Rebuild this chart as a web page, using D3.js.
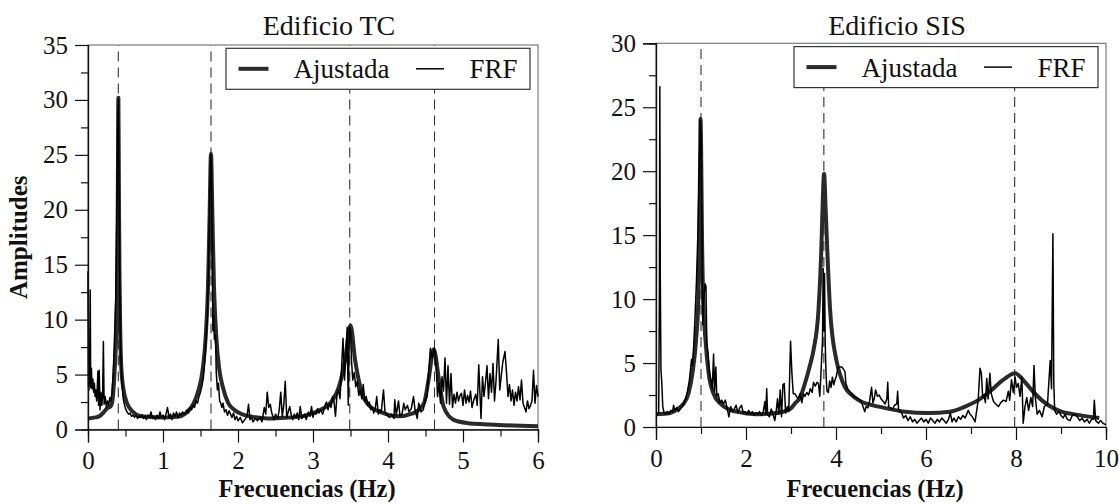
<!DOCTYPE html>
<html>
<head>
<meta charset="utf-8">
<script src="https://cdn.jsdelivr.net/npm/d3@7"></script>
<style>
  body { margin: 0; background: #fff; }
  svg text { font-family: "Liberation Serif", "Times New Roman", serif; fill: #111; }
</style>
</head>
<body>
<svg id="chart" width="1120" height="504"></svg>
<script>
// Edificio TC : FRF medida [frecuencia Hz, amplitud]
var tcFRF = [
  [0.000,14.4],[0.006,4.0],[0.012,3.6],[0.02,5.0],[0.03,12.7],[0.036,3.8],[0.045,5.6],[0.055,3.7],[0.065,4.6],[0.075,3.4],
  [0.085,4.2],[0.095,3.0],[0.105,3.6],[0.115,2.6],[0.125,4.0],[0.132,5.3],[0.14,2.2],[0.15,5.4],[0.16,1.8],[0.172,3.4],
  [0.185,2.2],[0.195,3.0],[0.205,8.0],[0.215,2.3],[0.23,3.0],[0.245,2.0],[0.26,2.6],[0.275,2.2],[0.29,2.9],[0.305,2.6],
  [0.32,3.4],[0.335,5.0],[0.35,7.6],[0.37,12],[0.385,20],[0.397,28],[0.405,30],[0.413,24],[0.42,16],[0.43,9.5],
  [0.44,6.2],[0.455,4.0],[0.47,2.8],[0.485,2.3],[0.5,1.9],[0.52,1.6],[0.54,1.4],[0.56,1.5],[0.58,1.2],[0.6,1.3],
  [0.62,1.1],[0.64,1.3],[0.66,1.0],[0.68,1.2],[0.7,1.1],[0.72,1.3],[0.74,1.0],[0.76,1.2],[0.78,0.9],[0.8,1.3],
  [0.82,1.1],[0.84,1.6],[0.86,1.0],[0.88,1.2],[0.9,0.9],[0.92,1.3],[0.94,1.0],[0.96,1.6],[0.98,1.1],[1.0,1.3],
  [1.02,0.9],[1.04,1.4],[1.06,2.0],[1.08,1.1],[1.1,1.4],[1.12,0.9],[1.14,1.5],[1.16,1.2],[1.18,1.6],[1.2,1.1],
  [1.22,1.5],[1.24,1.3],[1.26,1.6],[1.28,1.4],[1.3,1.5],[1.32,1.8],[1.34,1.5],[1.36,2.0],[1.38,1.8],[1.4,2.2],
  [1.42,2.0],[1.44,2.6],[1.46,2.4],[1.48,3.0],[1.5,3.4],[1.52,4.0],[1.54,4.8],[1.56,6.5],[1.575,8.6],[1.59,10],
  [1.605,14],[1.62,20],[1.635,25],[1.645,24],[1.655,17],[1.665,9],[1.675,10.4],[1.685,8.2],[1.7,8.6],[1.71,5.2],
  [1.725,3.6],[1.74,4.2],[1.755,2.6],[1.77,2.4],[1.785,2.0],[1.8,2.4],[1.82,1.6],[1.84,1.8],[1.86,1.3],[1.88,1.7],
  [1.9,1.4],[1.92,1.1],[1.94,1.5],[1.96,0.9],[1.98,1.2],[2.0,0.8],[2.03,1.1],[2.06,0.6],[2.09,0.9],[2.12,1.2],
  [2.14,2.3],[2.16,0.9],[2.18,1.1],[2.2,0.7],[2.23,1.0],[2.26,0.8],[2.29,1.1],[2.32,0.7],[2.35,2.0],[2.37,1.4],
  [2.39,3.4],[2.41,2.0],[2.43,2.3],[2.45,1.5],[2.48,0.9],[2.5,1.4],[2.53,1.0],[2.55,1.8],[2.57,3.4],[2.59,1.2],
  [2.61,2.2],[2.63,4.4],[2.65,1.1],[2.67,1.6],[2.69,2.1],[2.71,1.3],[2.73,0.9],[2.75,1.4],[2.77,1.1],[2.79,1.5],
  [2.81,0.9],[2.83,2.1],[2.85,1.0],[2.87,1.2],[2.89,1.4],[2.91,0.9],[2.94,1.6],[2.96,1.2],[2.98,2.1],[3.0,1.1],
  [3.02,1.6],[3.04,1.4],[3.06,1.9],[3.08,1.5],[3.1,1.8],[3.13,1.4],[3.16,2.2],[3.18,2.5],[3.2,1.8],[3.22,2.4],
  [3.24,2.0],[3.26,3.0],[3.28,2.5],[3.3,1.2],[3.32,3.2],[3.34,3.6],[3.36,2.8],[3.38,5.5],[3.4,8.3],[3.42,4.5],
  [3.44,7.0],[3.455,9.3],[3.47,2.2],[3.485,9.4],[3.5,9.0],[3.515,6.1],[3.53,4.5],[3.55,5.2],[3.57,3.9],[3.59,4.4],
  [3.61,3.1],[3.63,3.6],[3.65,2.8],[3.67,4.1],[3.69,2.6],[3.71,3.0],[3.73,2.2],[3.75,2.5],[3.77,1.8],[3.79,2.0],
  [3.81,1.5],[3.83,1.9],[3.85,3.0],[3.87,1.4],[3.89,1.8],[3.91,1.6],[3.94,3.6],[3.96,1.6],[3.99,1.3],[4.02,1.1],
  [4.05,1.4],[4.08,1.0],[4.09,2.7],[4.11,1.3],[4.14,2.6],[4.16,1.2],[4.19,1.5],[4.21,2.4],[4.23,1.8],[4.26,2.2],
  [4.28,1.6],[4.31,1.9],[4.34,3.0],[4.36,1.8],[4.39,1.0],[4.41,2.4],[4.44,1.6],[4.47,1.8],[4.5,2.8],[4.52,3.0],
  [4.54,5.0],[4.565,7.4],[4.59,6.5],[4.615,7.4],[4.63,6.8],[4.645,5.5],[4.66,3.0],[4.68,4.2],[4.7,2.4],[4.72,4.8],
  [4.74,3.5],[4.76,6.5],[4.78,2.4],[4.8,5.8],[4.82,2.3],[4.84,5.1],[4.86,2.0],[4.88,3.2],[4.9,2.4],[4.92,3.4],
  [4.94,2.6],[4.96,3.1],[4.98,3.3],[5.0,2.2],[5.02,3.6],[5.04,2.4],[5.06,3.1],[5.08,2.5],[5.1,3.5],[5.12,2.0],
  [5.14,2.6],[5.17,3.2],[5.19,2.2],[5.21,5.9],[5.24,1.0],[5.26,4.8],[5.28,3.0],[5.3,4.3],[5.32,5.8],[5.34,2.8],
  [5.36,5.1],[5.38,3.4],[5.4,6.0],[5.42,2.6],[5.44,4.4],[5.47,8.2],[5.49,3.6],[5.51,4.9],[5.53,6.1],[5.56,7.1],
  [5.58,5.2],[5.6,3.0],[5.62,4.1],[5.64,2.6],[5.66,3.6],[5.68,2.2],[5.7,3.4],[5.72,2.6],[5.74,3.9],[5.76,2.7],
  [5.78,4.5],[5.8,2.4],[5.82,2.0],[5.84,1.6],[5.86,2.6],[5.88,1.9],[5.9,2.2],[5.92,2.6],[5.94,5.4],[5.96,2.4],
  [5.98,4.0],[6.0,3.0]
];

// Edificio TC : curva ajustada
var tcFit = [
  [0,1.0],[0.1,1.1],[0.15,1.2],[0.2,1.5],[0.25,1.9],[0.3,2.1],[0.32,2.4],[0.356,5.5],[0.375,8.5],[0.39,14],
  [0.398,22],[0.405,30.2],[0.412,22],[0.42,14],[0.43,9],[0.445,5.5],[0.47,3.8],[0.52,2.4],[0.6,1.6],[0.68,1.25],
  [0.8,1.15],[1.0,1.1],[1.2,1.15],[1.3,1.45],[1.41,2.4],[1.47,3.5],[1.53,5.5],[1.57,8.5],[1.6,13],[1.62,19],
  [1.64,25.1],[1.66,19],[1.68,13],[1.71,8.5],[1.75,5.5],[1.8,3.8],[1.87,2.4],[1.95,1.8],[2.05,1.4],[2.2,1.15],
  [2.4,1.0],[2.56,1.05],[2.8,1.15],[3.0,1.5],[3.1,1.8],[3.23,2.4],[3.36,4.2],[3.43,6.4],[3.5,9.5],[3.56,6.4],
  [3.63,3.9],[3.76,2.1],[3.94,1.5],[4.12,1.2],[4.34,1.5],[4.48,2.4],[4.54,4.5],[4.61,7.3],[4.68,4.5],[4.74,2.1],
  [4.87,0.9],[5.05,0.6],[5.36,0.45],[5.67,0.36],[6.0,0.3]
];
var tcModes = [0.404, 1.64, 3.49, 4.62];

// Edificio SIS : FRF medida
var sisFRF = [
  [0,1.0],[0.03,1.0],[0.06,1.1],[0.075,10],[0.085,26.6],[0.095,12],[0.11,4.5],[0.13,3.4],[0.15,1.6],[0.18,1.1],
  [0.21,1.0],[0.25,1.2],[0.29,1.0],[0.33,1.3],[0.37,1.2],[0.39,1.7],[0.42,1.3],[0.46,1.5],[0.5,1.2],[0.54,1.4],
  [0.58,1.6],[0.62,1.9],[0.66,2.2],[0.7,2.8],[0.74,3.6],[0.77,4.6],[0.79,5.3],[0.81,4.8],[0.84,6.5],[0.87,8.8],
  [0.9,11.5],[0.93,15],[0.96,20],[0.985,24],[1.0,23],[1.02,15],[1.04,8],[1.06,10],[1.09,11.2],[1.11,11.0],
  [1.13,6.5],[1.16,5.6],[1.19,4.2],[1.22,3.6],[1.25,3.0],[1.28,5.7],[1.3,2.8],[1.33,4.7],[1.35,2.4],[1.38,2.6],
  [1.42,1.9],[1.46,2.1],[1.5,1.8],[1.54,2.1],[1.58,1.5],[1.62,0.8],[1.66,1.6],[1.7,1.2],[1.74,1.4],[1.78,1.7],
  [1.82,1.1],[1.86,1.5],[1.9,1.7],[1.94,1.1],[1.98,1.2],[2.02,1.0],[2.06,1.3],[2.1,1.0],[2.14,1.2],[2.18,0.9],
  [2.22,1.1],[2.26,1.0],[2.3,1.2],[2.34,0.9],[2.38,1.1],[2.42,2.0],[2.44,1.0],[2.46,3.0],[2.48,1.0],[2.52,0.8],
  [2.56,1.4],[2.6,1.0],[2.64,0.5],[2.67,1.2],[2.7,2.2],[2.73,1.0],[2.76,2.9],[2.79,0.8],[2.82,3.3],[2.85,3.4],
  [2.88,1.1],[2.92,1.6],[2.95,1.2],[2.99,6.7],[3.02,4.2],[3.05,2.6],[3.09,2.6],[3.12,2.4],[3.16,2.2],[3.2,2.6],
  [3.24,1.9],[3.28,2.6],[3.31,2.4],[3.35,2.7],[3.39,2.5],[3.43,3.0],[3.47,2.7],[3.5,3.5],[3.54,3.2],[3.58,3.5],
  [3.61,3.4],[3.64,2.4],[3.67,4.5],[3.7,6.8],[3.715,12.4],[3.73,7.5],[3.745,12.0],[3.76,6.6],[3.78,4.0],[3.8,2.8],
  [3.83,2.7],[3.86,3.6],[3.89,3.1],[3.92,3.9],[3.95,3.3],[3.98,3.7],[4.01,4.0],[4.04,4.6],[4.08,4.7],[4.13,4.7],
  [4.17,4.5],[4.2,4.3],[4.22,3.4],[4.26,3.0],[4.3,2.8],[4.35,2.6],[4.4,2.4],[4.45,2.3],[4.5,2.2],[4.54,2.1],
  [4.57,1.9],[4.6,1.6],[4.64,1.2],[4.67,1.6],[4.71,1.5],[4.75,2.1],[4.79,3.1],[4.82,1.9],[4.85,2.2],[4.88,2.9],
  [4.92,2.4],[4.96,2.5],[5.0,2.2],[5.05,2.0],[5.09,1.8],[5.13,2.2],[5.15,3.5],[5.17,1.6],[5.21,1.5],[5.26,1.4],
  [5.3,1.7],[5.35,1.8],[5.37,2.8],[5.39,1.4],[5.41,1.2],[5.46,1.1],[5.5,0.7],[5.55,0.9],[5.6,0.5],[5.65,0.8],
  [5.7,0.4],[5.75,0.6],[5.8,0.3],[5.85,0.5],[5.9,0.7],[5.95,0.4],[6.0,0.6],[6.05,0.3],[6.1,0.7],[6.15,0.5],
  [6.2,0.3],[6.25,0.6],[6.3,0.4],[6.35,0.7],[6.4,0.5],[6.45,0.3],[6.5,0.6],[6.54,1.1],[6.58,0.4],[6.62,0.7],
  [6.67,0.4],[6.72,0.8],[6.77,0.6],[6.82,0.9],[6.87,0.7],[6.94,1.3],[6.98,1.0],[7.03,0.8],[7.09,0.4],[7.16,2.1],
  [7.2,4.6],[7.23,4.2],[7.26,2.3],[7.29,2.5],[7.32,1.9],[7.35,3.8],[7.38,2.2],[7.42,4.2],[7.45,2.6],[7.5,2.0],
  [7.55,1.8],[7.61,1.6],[7.66,1.9],[7.72,2.1],[7.78,2.0],[7.83,2.8],[7.86,2.1],[7.9,3.7],[7.94,2.7],[7.98,3.9],
  [8.01,3.1],[8.05,3.4],[8.09,2.4],[8.13,3.9],[8.16,0.3],[8.2,1.6],[8.24,2.3],[8.28,1.3],[8.33,2.3],[8.37,1.6],
  [8.4,4.8],[8.43,2.3],[8.47,1.0],[8.52,1.3],[8.58,0.8],[8.63,1.6],[8.7,1.8],[8.76,5.2],[8.79,3.0],[8.82,15.1],
  [8.84,3.4],[8.86,1.3],[8.9,1.0],[8.95,1.2],[9.0,0.9],[9.05,0.7],[9.09,1.0],[9.14,0.6],[9.2,0.5],[9.25,0.9],
  [9.31,1.0],[9.36,0.8],[9.42,0.5],[9.47,0.7],[9.52,0.4],[9.58,0.6],[9.63,0.3],[9.68,0.6],[9.72,0.6],[9.74,2.1],
  [9.77,0.5],[9.83,0.3],[9.88,0.5],[9.93,0.3],[9.98,0.2],[10.0,0.2]
];

// Edificio SIS : curva ajustada
var sisFit = [
  [0,1.0],[0.31,1.1],[0.5,1.45],[0.61,1.8],[0.72,2.6],[0.81,4.2],[0.89,6.8],[0.94,9.9],[0.965,15.5],[0.98,21],
  [0.99,24.1],[1.005,21],[1.02,15.5],[1.05,9.9],[1.1,6.8],[1.17,4.2],[1.28,2.6],[1.44,1.8],[1.6,1.4],[1.79,1.2],
  [2.24,1.0],[2.68,1.1],[2.98,1.4],[3.09,1.85],[3.2,2.3],[3.31,3.4],[3.42,4.8],[3.5,6.0],[3.61,9.1],[3.67,13.5],
  [3.7,17],[3.735,19.8],[3.77,17],[3.81,13.5],[3.87,9.1],[4.01,5.2],[4.1,4.0],[4.2,3.1],[4.35,2.5],[4.5,2.1],
  [4.7,1.8],[4.94,1.6],[5.2,1.4],[5.53,1.2],[6.05,1.1],[6.53,1.2],[6.87,1.6],[7.16,2.1],[7.46,2.9],[7.72,3.7],
  [7.98,4.2],[8.2,3.5],[8.42,2.6],[8.72,1.7],[9.01,1.2],[9.38,0.95],[9.85,0.7]
];
var sisModes = [1.0, 3.73, 7.97];

// ticks
var tcXMajor = [0, 1, 2, 3, 4, 5, 6];
var tcXMinor = [0.5, 1.5, 2.5, 3.5, 4.5, 5.5];
var tcYMajor = [0, 5, 10, 15, 20, 25, 30, 35];
var tcYMinor = [2.5, 7.5, 12.5, 17.5, 22.5, 27.5, 32.5];
var sisXMajor = [0, 2, 4, 6, 8, 10];
var sisXMinor = [1, 3, 5, 7, 9];
var sisYMajor = [0, 5, 10, 15, 20, 25, 30];
var sisYMinor = [2.5, 7.5, 12.5, 17.5, 22.5, 27.5];

var FONT = '"Liberation Serif", "Times New Roman", serif';
var svg = d3.select("#chart");

function styleAxis(sel) {
  sel.select(".domain").attr("stroke", "#111").attr("stroke-width", 1.2);
  sel.selectAll(".tick line").attr("stroke", "#111").attr("stroke-width", 1.2);
  sel.selectAll(".tick text")
    .style("font-family", FONT)
    .style("font-size", "25px")
    .attr("fill", "#111");
}

function drawPanel(p) {
  var x = d3.scaleLinear().domain([0, p.xMax]).range([p.x0, p.x1]);
  var y = d3.scaleLinear().domain([0, p.yMax]).range([p.y0, p.y1]);
  var g = svg.append("g");
  var cx = (p.x0 + p.x1) / 2;

  // marco
  g.append("rect")
    .attr("x", p.x0).attr("y", p.y1)
    .attr("width", p.x1 - p.x0).attr("height", p.y0 - p.y1)
    .attr("fill", "none").attr("stroke", "#7a7a7a").attr("stroke-width", 1.2);

  // frecuencias identificadas
  g.selectAll("line.mode").data(p.modes).enter().append("line")
    .attr("class", "mode")
    .attr("x1", function (d) { return x(d); })
    .attr("x2", function (d) { return x(d); })
    .attr("y1", y(0)).attr("y2", y(p.yMax))
    .attr("stroke", "#333").attr("stroke-width", 1.1)
    .attr("stroke-dasharray", "10,6");

  var line = d3.line()
    .x(function (d) { return x(d[0]); })
    .y(function (d) { return y(d[1]); });

  g.append("path").datum(p.fit)
    .attr("d", line.curve(d3.curveMonotoneX))
    .attr("fill", "none").attr("stroke", "#2a2a2a").attr("stroke-width", 4)
    .attr("stroke-linejoin", "round");

  g.append("path").datum(p.frf)
    .attr("d", line.curve(d3.curveLinear))
    .attr("fill", "none").attr("stroke", "#000").attr("stroke-width", 1.5)
    .attr("stroke-linejoin", "round");

  // ejes
  var ax = g.append("g").attr("transform", "translate(0," + p.y0 + ")")
    .call(d3.axisBottom(x).tickValues(p.xMajor).tickSize(13).tickPadding(9).tickFormat(d3.format("d")));
  styleAxis(ax);
  var axm = g.append("g").attr("transform", "translate(0," + p.y0 + ")")
    .call(d3.axisBottom(x).tickValues(p.xMinor).tickSize(7).tickFormat(""));
  styleAxis(axm);
  var ay = g.append("g").attr("transform", "translate(" + p.x0 + ",0)")
    .call(d3.axisLeft(y).tickValues(p.yMajor).tickSize(13).tickPadding(7).tickFormat(d3.format("d")));
  styleAxis(ay);
  var aym = g.append("g").attr("transform", "translate(" + p.x0 + ",0)")
    .call(d3.axisLeft(y).tickValues(p.yMinor).tickSize(7).tickFormat(""));
  styleAxis(aym);

  // titulo
  g.append("text")
    .attr("x", cx + 16).attr("y", 35)
    .attr("text-anchor", "middle")
    .style("font-size", "28px")
    .text(p.title);

  g.append("text")
    .attr("x", cx - 6).attr("y", 497)
    .attr("text-anchor", "middle")
    .style("font-size", "24.5px").style("font-weight", "bold")
    .text("Frecuencias (Hz)");

  if (p.yLabel) {
    g.append("text")
      .attr("transform", "translate(27," + (p.y0 + p.y1) / 2 + ") rotate(-90)")
      .attr("text-anchor", "middle")
      .style("font-size", "25px").style("font-weight", "bold")
      .text(p.yLabel);
  }

  // leyenda
  var lx = p.x1 - 8 - 304, ly = p.y1 + 3.3;
  var leg = g.append("g").attr("transform", "translate(" + lx + "," + ly + ")");
  leg.append("rect").attr("width", 304).attr("height", 41)
    .attr("fill", "#fff").attr("stroke", "#333").attr("stroke-width", 1.2);
  leg.append("line").attr("x1", 12.5).attr("x2", 42.5).attr("y1", 20.5).attr("y2", 20.5)
    .attr("stroke", "#2a2a2a").attr("stroke-width", 4);
  leg.append("text").attr("x", 67.5).attr("y", 30).style("font-size", "27px").text("Ajustada");
  leg.append("line").attr("x1", 190).attr("x2", 218).attr("y1", 20.5).attr("y2", 20.5)
    .attr("stroke", "#000").attr("stroke-width", 1.5);
  leg.append("text").attr("x", 243.5).attr("y", 30).style("font-size", "27px").text("FRF");
}

drawPanel({
  x0: 88, x1: 538, y0: 429.5, y1: 45, xMax: 6, yMax: 35,
  xMajor: tcXMajor, xMinor: tcXMinor, yMajor: tcYMajor, yMinor: tcYMinor,
  modes: tcModes, frf: tcFRF, fit: tcFit,
  title: "Edificio TC", yLabel: "Amplitudes"
});

drawPanel({
  x0: 656, x1: 1106, y0: 427, y1: 43.3, xMax: 10, yMax: 30,
  xMajor: sisXMajor, xMinor: sisXMinor, yMajor: sisYMajor, yMinor: sisYMinor,
  modes: sisModes, frf: sisFRF, fit: sisFit,
  title: "Edificio SIS", yLabel: null
});
</script>
</body>
</html>
